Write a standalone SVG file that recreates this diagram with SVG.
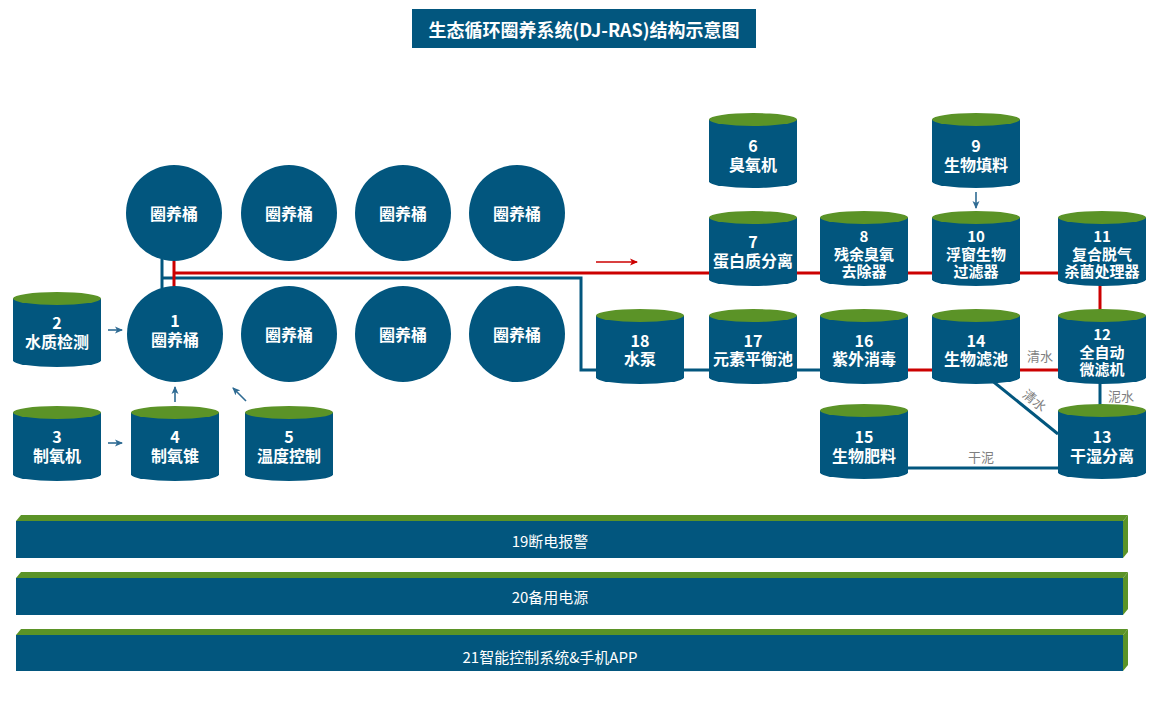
<svg xmlns="http://www.w3.org/2000/svg" xmlns:xlink="http://www.w3.org/1999/xlink" width="1162" height="710" viewBox="0 0 1162 710">
<style>
.bg{fill:#ffffff}
.blue{fill:#02567E}
.green{fill:#5B9327}
.t{font-family:"Noto Sans CJK SC","Noto Sans",sans-serif;fill:#ffffff;font-size:16px;font-weight:bold;text-anchor:middle;dominant-baseline:central}
.s3{font-size:15px}
.title{font-size:18px}
.bart{font-weight:normal;font-size:15px}
.lbl{font-family:"Noto Sans CJK SC","Noto Sans",sans-serif;fill:#7f7f7f;font-size:13px;text-anchor:middle;dominant-baseline:central}
.lr{stroke:#CC0000;stroke-width:3;fill:none}
.lb{stroke:#02567E;stroke-width:3;fill:none}
.ar{stroke:#2F6B93;stroke-width:1.6;fill:none}
.arr{stroke:#CC0000;stroke-width:1.3;fill:none}
</style>
<defs>
<g id="cyl">
<path class="blue" d="M0,6.5 L0,68.5 A44,6.5 0 0 0 88,68.5 L88,6.5 Z"/>
<ellipse class="green" cx="44" cy="6.5" rx="44" ry="6.5"/>
</g>
<marker id="mb" viewBox="0 0 8 8" refX="7" refY="4" markerWidth="8" markerHeight="8" markerUnits="userSpaceOnUse" orient="auto">
<path d="M0,0.5 L8,4 L0,7.5 L2,4 Z" fill="#2F6B93"/>
</marker>
<marker id="mr" viewBox="0 0 8 8" refX="7" refY="4" markerWidth="8" markerHeight="8" markerUnits="userSpaceOnUse" orient="auto">
<path d="M0,0.5 L8,4 L0,7.5 L2,4 Z" fill="#CC0000"/>
</marker>
</defs>
<rect class="bg" x="0" y="0" width="1162" height="710"/>

<g id="title">
<rect class="blue" x="412" y="9" width="344" height="39"/>
<text class="t title" x="584" y="28.5">生态循环圈养系统(DJ-RAS)结构示意图</text>
</g>

<g id="connectors">
<path class="lb" d="M162,259 L162,288"/>
<path class="lb" d="M162,278 L581,278 L581,370 L820,370"/>
<path class="lr" d="M174,261 L174,287"/>
<path class="lr" d="M174,273 L1058,273"/>
<path class="lr" d="M1100,284 L1100,310"/>
<path class="lr" d="M908,370 L1058,370"/>
<path class="lb" d="M1100,382 L1100,405"/>
<path class="lb" d="M990,379 L1058,434"/>
<path class="lb" d="M908,468 L1058,468"/>
<line class="ar" x1="108" y1="330" x2="122" y2="330" marker-end="url(#mb)"/>
<line class="ar" x1="108" y1="443" x2="122" y2="443" marker-end="url(#mb)"/>
<line class="ar" x1="175" y1="402" x2="175" y2="387" marker-end="url(#mb)"/>
<line class="ar" x1="246" y1="401" x2="233" y2="388" marker-end="url(#mb)"/>
<line class="ar" x1="976" y1="192" x2="976" y2="208" marker-end="url(#mb)"/>
<line class="arr" x1="596" y1="262" x2="637" y2="262" marker-end="url(#mr)"/>
<text class="lbl" x="1040" y="355">清水</text>
<text class="lbl" x="1121" y="395">泥水</text>
<text class="lbl" x="1035" y="400" transform="rotate(39 1035 400)">清水</text>
<text class="lbl" x="981" y="456">干泥</text>
</g>

<g id="tank-top-1"><circle class="blue" cx="174" cy="213" r="48"/><text class="t" x="174" y="213">圈养桶</text></g>
<g id="tank-top-2"><circle class="blue" cx="289" cy="213" r="48"/><text class="t" x="289" y="213">圈养桶</text></g>
<g id="tank-top-3"><circle class="blue" cx="403" cy="213" r="48"/><text class="t" x="403" y="213">圈养桶</text></g>
<g id="tank-top-4"><circle class="blue" cx="517" cy="213" r="48"/><text class="t" x="517" y="213">圈养桶</text></g>
<g id="n1"><circle class="blue" cx="175" cy="334" r="48"/><text class="t"><tspan x="175" y="320">1</tspan><tspan x="175" y="339">圈养桶</tspan></text></g>
<g id="tank-bot-2"><circle class="blue" cx="289" cy="334" r="48"/><text class="t" x="289" y="334">圈养桶</text></g>
<g id="tank-bot-3"><circle class="blue" cx="403" cy="334" r="48"/><text class="t" x="403" y="334">圈养桶</text></g>
<g id="tank-bot-4"><circle class="blue" cx="517" cy="334" r="48"/><text class="t" x="517" y="334">圈养桶</text></g>

<g id="n2"><use xlink:href="#cyl" x="13" y="292"/><text class="t"><tspan x="57" y="322">2</tspan><tspan x="57" y="341">水质检测</tspan></text></g>
<g id="n3"><use xlink:href="#cyl" x="13" y="406"/><text class="t"><tspan x="57" y="436">3</tspan><tspan x="57" y="455">制氧机</tspan></text></g>
<g id="n4"><use xlink:href="#cyl" x="131" y="406"/><text class="t"><tspan x="175" y="436">4</tspan><tspan x="175" y="455">制氧锥</tspan></text></g>
<g id="n5"><use xlink:href="#cyl" x="245" y="406"/><text class="t"><tspan x="289" y="436">5</tspan><tspan x="289" y="455">温度控制</tspan></text></g>
<g id="n6"><use xlink:href="#cyl" x="709" y="113"/><text class="t"><tspan x="753" y="145">6</tspan><tspan x="753" y="164">臭氧机</tspan></text></g>
<g id="n9"><use xlink:href="#cyl" x="932" y="113"/><text class="t"><tspan x="976" y="145">9</tspan><tspan x="976" y="164">生物填料</tspan></text></g>
<g id="n7"><use xlink:href="#cyl" x="709" y="211"/><text class="t"><tspan x="753" y="241">7</tspan><tspan x="753" y="260">蛋白质分离</tspan></text></g>
<g id="n8"><use xlink:href="#cyl" x="820" y="211"/><text class="t s3"><tspan x="864" y="235">8</tspan><tspan x="864" y="252.5">残余臭氧</tspan><tspan x="864" y="270">去除器</tspan></text></g>
<g id="n10"><use xlink:href="#cyl" x="932" y="211"/><text class="t s3"><tspan x="976" y="235">10</tspan><tspan x="976" y="252.5">浮窗生物</tspan><tspan x="976" y="270">过滤器</tspan></text></g>
<g id="n11"><use xlink:href="#cyl" x="1058" y="211"/><text class="t s3"><tspan x="1102" y="235">11</tspan><tspan x="1102" y="252.5">复合脱气</tspan><tspan x="1102" y="270">杀菌处理器</tspan></text></g>
<g id="n18"><use xlink:href="#cyl" x="596" y="309"/><text class="t"><tspan x="640" y="340">18</tspan><tspan x="640" y="358">水泵</tspan></text></g>
<g id="n17"><use xlink:href="#cyl" x="709" y="309"/><text class="t"><tspan x="753" y="340">17</tspan><tspan x="753" y="358">元素平衡池</tspan></text></g>
<g id="n16"><use xlink:href="#cyl" x="820" y="309"/><text class="t"><tspan x="864" y="340">16</tspan><tspan x="864" y="358">紫外消毒</tspan></text></g>
<g id="n14"><use xlink:href="#cyl" x="932" y="309"/><text class="t"><tspan x="976" y="340">14</tspan><tspan x="976" y="358">生物滤池</tspan></text></g>
<g id="n12"><use xlink:href="#cyl" x="1058" y="309"/><text class="t s3"><tspan x="1102" y="333">12</tspan><tspan x="1102" y="350.5">全自动</tspan><tspan x="1102" y="368">微滤机</tspan></text></g>
<g id="n15"><use xlink:href="#cyl" x="820" y="404"/><text class="t"><tspan x="864" y="436">15</tspan><tspan x="864" y="455">生物肥料</tspan></text></g>
<g id="n13"><use xlink:href="#cyl" x="1058" y="404"/><text class="t"><tspan x="1102" y="436">13</tspan><tspan x="1102" y="455">干湿分离</tspan></text></g>

<g id="n19">
<polygon class="green" points="16,521 21,515 1128,515 1123,521"/>
<polygon class="green" points="1123,521 1128,515 1128,552 1123,558"/>
<rect class="blue" x="16" y="521" width="1107" height="37"/>
<text class="t bart" x="550" y="540">19断电报警</text>
</g>
<g id="n20">
<polygon class="green" points="16,578 21,572 1128,572 1123,578"/>
<polygon class="green" points="1123,578 1128,572 1128,609 1123,615"/>
<rect class="blue" x="16" y="578" width="1107" height="37"/>
<text class="t bart" x="550" y="596">20备用电源</text>
</g>
<g id="n21">
<polygon class="green" points="16,635 21,629 1128,629 1123,635"/>
<polygon class="green" points="1123,635 1128,629 1128,665 1123,671"/>
<rect class="blue" x="16" y="635" width="1107" height="36"/>
<text class="t bart" x="550" y="656">21智能控制系统&amp;手机APP</text>
</g>
</svg>
